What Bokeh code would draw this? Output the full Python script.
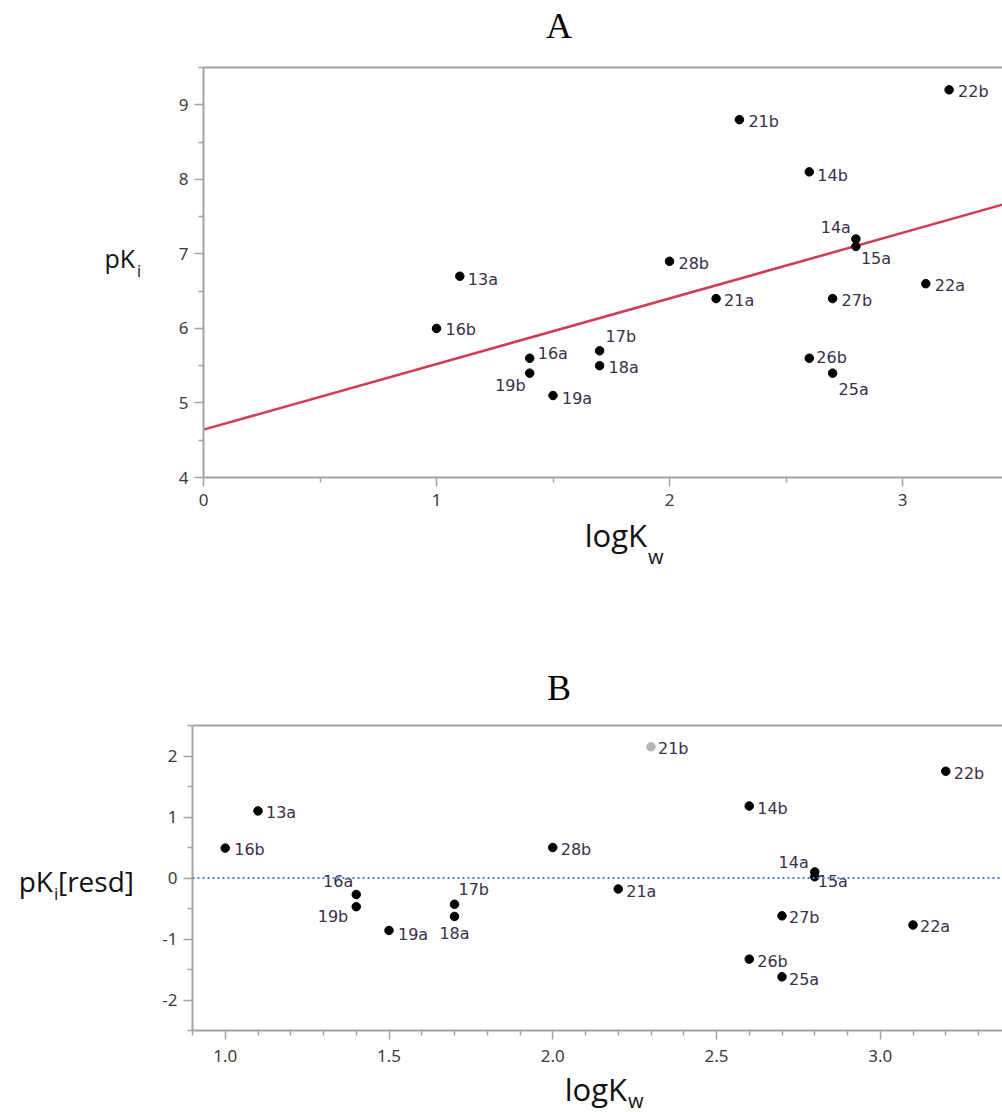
import numpy as np
from bokeh.plotting import figure
from bokeh.models import (ColumnDataSource, Range1d, FixedTicker, PrintfTickFormatter,
                          LinearAxis, Span, Div)
from bokeh.layouts import column, row
from bokeh.embed import file_html
from bokeh.resources import INLINE

# ---------------- data ----------------
compounds = ["13a", "16b", "16a", "19b", "19a", "17b", "18a", "28b", "21a",
             "21b", "14b", "26b", "25a", "27b", "14a", "15a", "22a", "22b"]
logkw = [1.1, 1.0, 1.4, 1.4, 1.5, 1.7, 1.7, 2.0, 2.2,
         2.3, 2.6, 2.6, 2.7, 2.7, 2.8, 2.8, 3.1, 3.2]
pki = [6.7, 6.0, 5.6, 5.4, 5.1, 5.7, 5.5, 6.9, 6.4,
       8.8, 8.1, 5.6, 5.4, 6.4, 7.2, 7.1, 6.6, 9.2]
pki_resid = [1.10, 0.49, -0.27, -0.47, -0.86, -0.43, -0.63, 0.50, -0.18,
             2.15, 1.18, -1.33, -1.62, -0.62, 0.10, 0.02, -0.77, 1.75]
excluded = ["21b"]          # shown grey in the residual plot

a_xticks = [0, 1, 2, 3]
a_xminor = [0.5, 1.5, 2.5, 3.5]
a_yticks = [4, 5, 6, 7, 8, 9]
a_yminor = [4.5, 5.5, 6.5, 7.5, 8.5, 9.5]
b_xticks = [1.0, 1.5, 2.0, 2.5, 3.0]
b_xminor = [0.9, 1.1, 1.2, 1.3, 1.4, 1.6, 1.7, 1.8, 1.9, 2.1, 2.2, 2.3, 2.4,
            2.6, 2.7, 2.8, 2.9, 3.1, 3.2, 3.3]
b_yticks = [-2, -1, 0, 1, 2]
b_yminor = [-2.5, -1.5, -0.5, 0.5, 1.5, 2.5]

# ---------------- label placement (style) ----------------
a_off = {
    "13a": (8, 3, "left"), "16b": (9, 1, "left"), "16a": (8, -5, "left"),
    "19b": (-4, 12, "right"), "19a": (9, 3, "left"), "17b": (6, -14, "left"),
    "18a": (9, 2, "left"), "28b": (9, 2, "left"), "21a": (8, 2, "left"),
    "21b": (9, 2, "left"), "14b": (8, 4, "left"), "26b": (7, -1, "left"),
    "25a": (6, 16, "left"), "27b": (9, 2, "left"), "14a": (-5, -11, "right"),
    "15a": (5, 12, "left"), "22a": (9, 2, "left"), "22b": (9, 2, "left"),
}
b_off = {
    "13a": (8, 2, "left"), "16b": (9, 1, "left"), "16a": (-3, -13, "right"),
    "19b": (-8, 10, "right"), "19a": (9, 4, "left"), "17b": (4, -15, "left"),
    "18a": (0, 17, "center"), "28b": (8, 2, "left"), "21a": (8, 3, "left"),
    "21b": (7, 2, "left"), "14b": (8, 2, "left"), "26b": (8, 2, "left"),
    "25a": (7, 3, "left"), "27b": (7, 2, "left"), "14a": (-6, -9, "right"),
    "15a": (3, 5, "left"), "22a": (7, 2, "left"), "22b": (8, 2, "left"),
}

AXC = "#a3a3a3"
TICKC = "#3c3c3c"
LABC = "#3a2e4c"
FACT = {"Open Sans": 0.888, "Liberation Serif": 0.8375}
W = 1002
SIDE = 150


def style_axis(ax, standoff):
    ax.axis_line_color = AXC
    ax.axis_line_width = 2
    ax.major_tick_line_color = AXC
    ax.major_tick_line_width = 1.5
    ax.minor_tick_line_color = AXC
    ax.minor_tick_line_width = 1.5
    ax.major_tick_in = 0
    ax.major_tick_out = 9
    ax.minor_tick_in = 0
    ax.minor_tick_out = 5
    ax.major_label_text_font = "Noto Sans"
    ax.major_label_text_font_size = "17px"
    ax.major_label_text_color = TICKC
    ax.major_label_standoff = standoff


def top_line(p):
    top = LinearAxis(ticker=FixedTicker(ticks=[]), axis_line_color=AXC, axis_line_width=2,
                     major_label_text_font_size="0px", major_tick_line_color=None,
                     minor_tick_line_color=None, major_tick_out=0, minor_tick_out=0,
                     major_tick_in=0, minor_tick_in=0, major_label_standoff=0)
    p.add_layout(top, "above")


def span(text, x, base, size, font="Open Sans", anchor="left", color="#111111", width=W):
    top = base - FACT[font] * size
    st = (f"position:absolute;top:{top:.1f}px;font-family:'{font}';font-size:{size}px;"
          f"line-height:{size}px;white-space:nowrap;color:{color};margin:0;padding:0;")
    if anchor == "left":
        st += f"left:{x}px;"
    elif anchor == "right":
        st += f"right:{width - x}px;"
    else:
        st += f"left:{x - 100}px;width:200px;text-align:center;"
    return f'<span style="{st}">{text}</span>'


def make_div(spans, width, height):
    html = (f'<div style="position:relative;width:{width}px;height:{height}px;'
            f'margin:0;padding:0;">' + "".join(spans) + "</div>")
    return Div(text=html, width=width, height=height, margin=0)


# ---------------- panel A ----------------
a_xend = 799 / 233.0
pa = figure(width=W - SIDE, height=470, output_backend="svg", toolbar_location=None,
            x_range=Range1d(0, a_xend), y_range=Range1d(4, 9.5),
            min_border_left=53, min_border_top=17, min_border_bottom=43,
            min_border_right=0, outline_line_color=None, margin=0)
pa.grid.visible = False
pa.xaxis.ticker = FixedTicker(ticks=a_xticks, minor_ticks=a_xminor)
pa.yaxis.ticker = FixedTicker(ticks=a_yticks, minor_ticks=a_yminor)
pa.xaxis.formatter = PrintfTickFormatter(format="%d")
pa.yaxis.formatter = PrintfTickFormatter(format="%d")
style_axis(pa.xaxis[0], 7)
style_axis(pa.yaxis[0], 6)
top_line(pa)

slope, intercept = np.polyfit(logkw, pki, 1)
fit_x = [0, a_xend]
fit_y = [intercept + slope * v for v in fit_x]
pa.line(fit_x, fit_y, line_color="#d23c50", line_width=2.5)

src_a = ColumnDataSource(dict(
    x=logkw, y=pki, name=compounds,
    dx=[a_off[c][0] for c in compounds], dy=[a_off[c][1] for c in compounds],
    al=[a_off[c][2] for c in compounds]))
pa.scatter("x", "y", source=src_a, size=8.5, color="black")
pa.text("x", "y", text="name", source=src_a, x_offset="dx", y_offset="dy",
        text_align="al", text_baseline="middle", text_font_size="16px",
        text_font={"value": "DejaVu Sans"}, text_color=LABC)

# ---------------- panel B ----------------
b_xend = 0.9 + 810 / 327.5
pb = figure(width=W - SIDE, height=360, output_backend="svg", toolbar_location=None,
            x_range=Range1d(0.9, b_xend), y_range=Range1d(-2.5, 2.5),
            min_border_left=42, min_border_top=10, min_border_bottom=45,
            min_border_right=0, outline_line_color=None, margin=0)
pb.grid.visible = False
pb.xaxis.ticker = FixedTicker(ticks=b_xticks, minor_ticks=b_xminor)
pb.yaxis.ticker = FixedTicker(ticks=b_yticks, minor_ticks=b_yminor)
pb.xaxis.formatter = PrintfTickFormatter(format="%.1f")
pb.yaxis.formatter = PrintfTickFormatter(format="%d")
style_axis(pb.xaxis[0], 10)
style_axis(pb.yaxis[0], 6)
top_line(pb)

pb.add_layout(Span(location=0, dimension="width", line_color="#4a7fe8",
                   line_width=2, line_dash="2 3"))

src_b = ColumnDataSource(dict(
    x=logkw, y=pki_resid, name=compounds,
    col=["#b4b4b4" if c in excluded else "black" for c in compounds],
    dx=[b_off[c][0] for c in compounds], dy=[b_off[c][1] for c in compounds],
    al=[b_off[c][2] for c in compounds]))
pb.scatter("x", "y", source=src_b, size=8.5, color="col")
pb.text("x", "y", text="name", source=src_b, x_offset="dx", y_offset="dy",
        text_align="al", text_baseline="middle", text_font_size="16px",
        text_font={"value": "DejaVu Sans"}, text_color=LABC)

# ---------------- text strips (titles and axis titles) ----------------
# page y: top strip 0-50, row A 50-520, middle strip 520-715, row B 715-1075, bottom 1075-1110
d_top = make_div([span("A", 559, 38, 36, "Liberation Serif", "center", "#000000")], W, 50)
d_pkA = make_div([span("pK", 135, 268 - 50, 25, anchor="right", width=SIDE),
                  span("i", 137, 277 - 50, 16, width=SIDE)], SIDE, 470)
d_mid = make_div([span("logK", 647, 547 - 520, 31, anchor="right"),
                  span("w", 648, 565 - 520, 20),
                  span("B", 559, 700 - 520, 36, "Liberation Serif", "center", "#000000")], W, 195)
d_pkB = make_div([span("pK", 53, 892 - 715, 28, anchor="right", width=SIDE),
                  span("i", 54, 900 - 715, 17, width=SIDE),
                  span("[resd]", 58, 892 - 715, 28, width=SIDE)], SIDE, 360)
d_bot = make_div([span("logK", 627, 1101 - 1075, 31, anchor="right"),
                  span("w", 628, 1109 - 1075, 20)], W, 35)

layout = column(d_top, row(d_pkA, pa, margin=0), d_mid, row(d_pkB, pb, margin=0), d_bot,
                margin=0)
open("out.html", "w").write(file_html(layout, INLINE))
